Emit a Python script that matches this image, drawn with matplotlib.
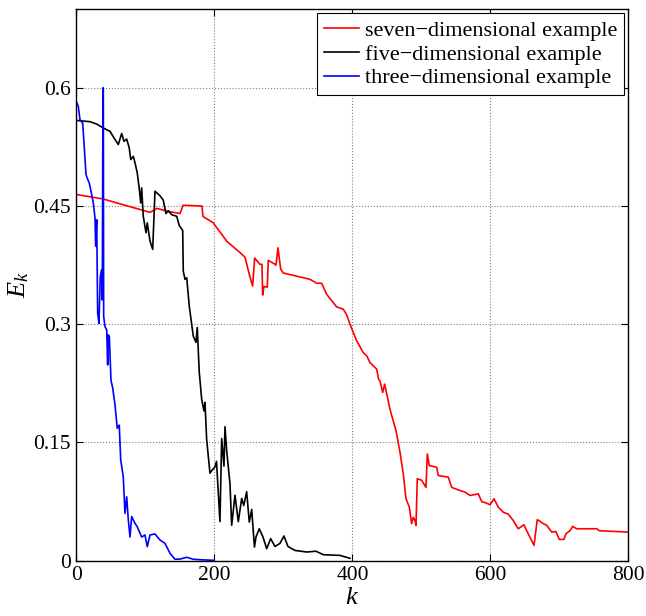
import matplotlib
matplotlib.use("Agg")
import matplotlib.pyplot as plt

# seven-dimensional example (red)
seven_k = [0, 38.4, 70.3, 106.6, 116.7, 131.2, 150.1, 154.5, 181.9, 183.4, 197.9, 218.2,
           237.0, 244.3, 251.5, 255.4, 258.3, 266.0, 268.9, 269.9, 271.8, 276.6, 278.0,
           286.3, 289.2, 292.1, 296.0, 299.8, 324.0, 338.5, 348.2, 355.5, 362.7, 377.2,
           386.8, 391.7, 396.5, 406.2, 415.8, 420.7, 425.5, 435.2, 438.1, 440.0, 443.9,
           446.8, 454.5, 463.2, 469.0, 473.8, 477.7, 482.5, 485.9, 488.3, 490.7, 492.2,
           494.1, 500.4, 506.7, 508.6, 511.5, 522.2, 524.5, 539.0, 543.9, 556.0, 563.2,
           570.5, 582.5, 587.4, 594.7, 599.4, 605.3, 611.5, 618.7, 626.0, 633.2, 640.5,
           648.7, 652.7, 663.3, 668.0, 672.0, 676.7, 681.6, 688.9, 695.1, 699.9, 706.7,
           709.6, 715.4, 719.3, 725.1, 754.1, 757.9, 800]
seven_e = [0.4646, 0.459, 0.451, 0.442, 0.447, 0.4435, 0.4405, 0.451, 0.450, 0.4367, 0.429, 0.405,
           0.391, 0.385, 0.360, 0.3485, 0.384, 0.376, 0.376, 0.337, 0.348, 0.347, 0.381,
           0.377, 0.375, 0.397, 0.370, 0.365, 0.360, 0.357, 0.352, 0.352, 0.338, 0.322,
           0.319, 0.312, 0.300, 0.279, 0.264, 0.260, 0.2515, 0.243, 0.230, 0.228, 0.2135,
           0.224, 0.192, 0.165, 0.1376, 0.110, 0.0785, 0.068, 0.047, 0.055, 0.051, 0.0447,
           0.104, 0.102, 0.093, 0.1354, 0.1207, 0.1186, 0.108, 0.106, 0.093, 0.089, 0.087,
           0.0827, 0.0848, 0.075, 0.073, 0.0709, 0.0785, 0.068, 0.0616, 0.059, 0.051, 0.0405,
           0.0456, 0.038, 0.0194, 0.052, 0.050, 0.047, 0.045, 0.0363, 0.037, 0.027, 0.027,
           0.0342, 0.038, 0.0435, 0.0405, 0.0405, 0.038, 0.0363]

# five-dimensional example (black)
five_k = [0, 19.6, 29.3, 38.9, 48.6, 53.3, 60.6, 65.5, 68.9, 72.8, 76.5, 78.6, 82.3, 84.8,
          88.1, 91.0, 93.1, 94.5, 96.8, 100.8, 102.6, 106.6, 110.5, 113.8, 121.1, 125.8,
          129.7, 133.1, 138.0, 145.3, 149.0, 154.0, 154.8, 157.3, 159.8, 163.5, 169.3,
          173.2, 175.1, 178.0, 181.5, 184.8, 186.3, 188.7, 193.5, 196.0, 200.8, 203.0,
          208.0, 210.5, 213.8, 215.3, 217.7, 222.5, 225.0, 229.8, 234.6, 239.5, 242.5,
          246.7, 250.5, 254.0, 258.0, 260.2, 265.0, 270.4, 275.7, 281.5, 287.8, 295.0,
          300.8, 306.6, 316.8, 333.7, 347.2, 357.8, 382.0, 396.5]
five_e = [0.5586, 0.557, 0.554, 0.549, 0.5447, 0.538, 0.528, 0.542, 0.532, 0.535, 0.5236, 0.509,
          0.513, 0.505, 0.492, 0.472, 0.454, 0.473, 0.437, 0.416, 0.4287, 0.4055, 0.395,
          0.4688, 0.463, 0.4574, 0.4405, 0.444, 0.439, 0.437, 0.4253, 0.419, 0.3675, 0.357,
          0.359, 0.323, 0.285, 0.277, 0.2958, 0.2388, 0.205, 0.190, 0.2008, 0.154, 0.111,
          0.1143, 0.119, 0.126, 0.0495, 0.155, 0.120, 0.170, 0.140, 0.098, 0.045, 0.083,
          0.0495, 0.079, 0.070, 0.0876, 0.049, 0.065, 0.0173, 0.030, 0.0405, 0.030, 0.0152,
          0.028, 0.018, 0.022, 0.0313, 0.018, 0.013, 0.011, 0.012, 0.0076, 0.0067, 0.003]

# three-dimensional example (blue)
three_k = [0, 2.6, 5.1, 9.0, 10.9, 13.8, 15.7, 18.6, 22.0, 24.4, 26.8, 27.8, 29.3, 30.7,
           32.6, 34.5, 36.5, 37.4, 38.4, 38.9, 39.4, 41.3, 43.8, 45.2, 46.1, 47.6, 50.0,
           52.5, 55.8, 59.1, 62.0, 64.1, 67.8, 70.3, 72.8, 75.1, 77.6, 80.0, 84.8, 88.1,
           94.5, 99.3, 102.6, 106.6, 113.8, 121.0, 128.3, 135.5, 142.8, 150.0, 159.8,
           169.3, 183.8, 199.3]
three_e = [0.582, 0.5764, 0.5595, 0.555, 0.530, 0.490, 0.485, 0.479, 0.4646, 0.454, 0.435,
           0.399, 0.4325, 0.314, 0.301, 0.3605, 0.369, 0.331, 0.600, 0.600, 0.310, 0.297,
           0.293, 0.2484, 0.2865, 0.2845, 0.229, 0.219, 0.198, 0.168, 0.172, 0.128, 0.1066,
           0.060, 0.081, 0.052, 0.030, 0.056, 0.0475, 0.043, 0.030, 0.0326, 0.0178, 0.0326,
           0.0339, 0.0263, 0.022, 0.0094, 0.0018, 0.002, 0.0043, 0.0018, 0.001, 0.0005]

x_ticks = [0, 200, 400, 600, 800]
y_ticks = [0, 0.15, 0.3, 0.45, 0.6]
y_tick_labels = ["0", "0.15", "0.3", "0.45", "0.6"]
labels = ["seven\u2212dimensional example", "five\u2212dimensional example",
          "three\u2212dimensional example"]

plt.rcParams["font.family"] = ["Liberation Serif", "DejaVu Serif"]
plt.rcParams["mathtext.fontset"] = "custom"
plt.rcParams["mathtext.rm"] = "Liberation Serif"
plt.rcParams["mathtext.it"] = "Liberation Serif:italic"

fig = plt.figure(figsize=(6.46, 6.16), dpi=100)
ax = fig.add_axes([0.1184, 0.0898, 0.8542, 0.8956])

ax.plot(seven_k, seven_e, color="red", lw=1.2, label=labels[0])
ax.plot(five_k, five_e, color="black", lw=1.2, label=labels[1])
ax.plot(three_k, three_e, color="blue", lw=1.2, label=labels[2])

ax.set_xlim(0, 800)
ax.set_ylim(0, 0.7)
ax.set_xticks(x_ticks)
ax.set_yticks(y_ticks)
ax.set_yticklabels(y_tick_labels)
ax.tick_params(direction="in", length=5, width=0.8, top=True, right=True,
               labelsize=15.5, pad=4)
ax.grid(True, linestyle=":", color="0.5", lw=0.8)
for sp in ax.spines.values():
    sp.set_linewidth(1.0)

ax.set_xlabel(r"$k$", fontsize=19, labelpad=1)
ax.set_ylabel(r"$E_k$", fontsize=19, labelpad=2)

leg = ax.legend(loc="upper right", bbox_to_anchor=(1, 1), borderaxespad=0.2,
                fontsize=16, labelspacing=0.15, handlelength=1.6, handletextpad=0.25,
                borderpad=0.3, fancybox=False, framealpha=1)
leg.get_frame().set_edgecolor("black")
leg.get_frame().set_linewidth(0.8)

fig.savefig("out.png", dpi=100)
